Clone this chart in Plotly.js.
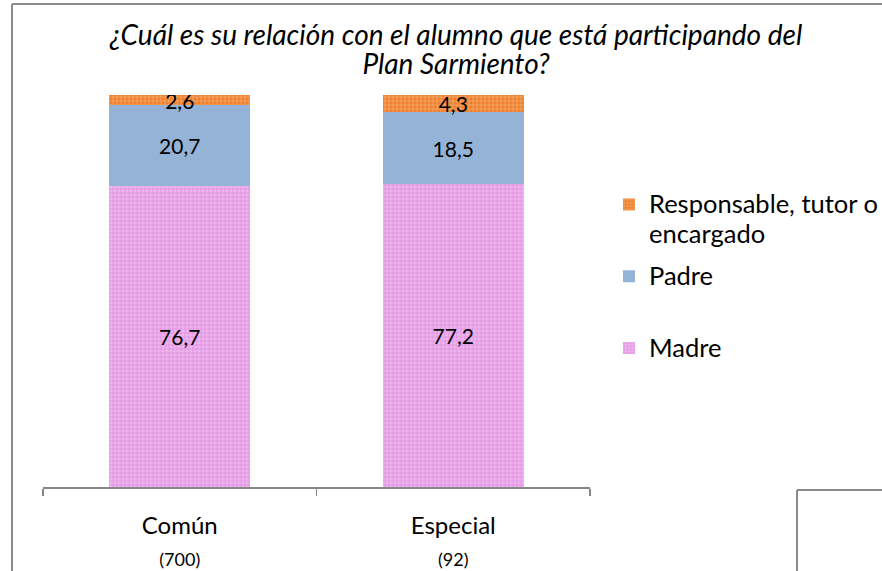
<!DOCTYPE html>
<html>
<head>
<meta charset="utf-8">
<script src="https://cdn.plot.ly/plotly-3.0.1.min.js"></script>
<style>html,body{margin:0;padding:0;background:#fff;}#chart{width:882px;height:571px;}</style>
</head>
<body>
<div id="chart"></div>
<script>
const categories = ["Común", "Especial"];
const sampleSizes = ["(700)", "(92)"];
const madre = [76.7, 77.2];
const padre = [20.7, 18.5];
const responsable = [2.6, 4.3];
const seriesNames = [["Madre"], ["Padre", " "], ["Responsable, tutor o", "encargado"]];
const titleLines = ["¿Cuál es su relación con el alumno que está participando del", "Plan Sarmiento?"];

const fmt = v => v.toFixed(1).replace(".", ",");
const sized = (lines, size) => lines.map(s => "<span style='font-size:" + size + "px'>" + s + "</span>").join("<br>");
const labelFont = {family: "Lato, sans-serif", size: 21, color: "#000"};

const tickText = categories.map((c, i) =>
  "<span style='font-size:24px'>" + c + "</span><br><span style='font-size:18px'>" + sampleSizes[i] + "</span>");

const common = {
  type: "bar", x: categories, textposition: "inside", insidetextanchor: "middle",
  constraintext: "none", textfont: labelFont, hoverinfo: "skip"
};

const traces = [
  Object.assign({}, common, {
    name: sized(seriesNames[0], 25.5), y: madre, text: madre.map(fmt), legendgroup: "m", legendrank: 3,
    marker: {color: "#e9a6ea", line: {width: 0},
      pattern: {shape: "+", size: 4, solidity: 0.25, fgcolor: "#d884d8", bgcolor: "#eeb4ee", fillmode: "replace"}}
  }),
  Object.assign({}, common, {
    name: sized(seriesNames[1], 25.5), y: padre, text: padre.map(fmt), legendgroup: "p", legendrank: 2,
    marker: {color: "#95b3d7", line: {width: 0}}
  }),
  Object.assign({}, common, {
    name: sized(seriesNames[2], 25.5), y: responsable, text: responsable.map(fmt), legendgroup: "r", legendrank: 1,
    marker: {color: "#f08a3c", line: {width: 0},
      pattern: {shape: "+", size: 4, solidity: 0.3, fgcolor: "#f5b07a", bgcolor: "#ee7f2c", fillmode: "replace"}}
  })
];

const W = 882, H = 571;
const L = 43, R = 590, T = 95, B = 487;
const px = x => (x - L) / (R - L);
const py = y => (B - y) / (B - T);

const layout = {
  width: W, height: H,
  margin: {l: L, r: W - R, t: T, b: H - B, pad: 0},
  paper_bgcolor: "#fff", plot_bgcolor: "#fff",
  barmode: "stack", bargap: 0.485,
  font: {family: "Lato, sans-serif", color: "#000"},
  title: {
    text: sized(titleLines, 28), xref: "container", x: 456 / W, xanchor: "center",
    yref: "container", y: 1 - 45 / H, yanchor: "top", automargin: false,
    font: {family: "Lato, sans-serif", size: 22, style: "italic", color: "#000"}
  },
  showlegend: true,
  legend: {
    xref: "container", yref: "container",
    x: 609 / W, y: 1 - 183 / H, xanchor: "left", yanchor: "top",
    traceorder: "grouped", valign: "top", tracegroupgap: 9,
    font: {family: "Lato, sans-serif", size: 23, color: "#000"},
    bgcolor: "rgba(0,0,0,0)"
  },
  xaxis: {
    tickmode: "array", tickvals: categories, ticktext: tickText,
    showline: true, linecolor: "#868686", linewidth: 1.5,
    ticks: "outside", tickson: "boundaries", ticklen: 7, tickcolor: "#868686", tickwidth: 1.5,
    tickfont: {family: "Lato, sans-serif", size: 25, color: "#000"},
    ticklabelstandoff: 15, showgrid: false, zeroline: false, fixedrange: true, automargin: false
  },
  yaxis: {range: [0, 100], visible: false, showgrid: false, zeroline: false, fixedrange: true},
  shapes: [
    {type: "line", xref: "paper", yref: "paper", x0: px(12), x1: px(12), y0: py(4), y1: py(575), line: {color: "#8c8c8c", width: 2}},
    {type: "line", xref: "paper", yref: "paper", x0: px(12), x1: px(886), y0: py(4), y1: py(4), line: {color: "#8c8c8c", width: 2}},
    {type: "line", xref: "paper", yref: "paper", x0: px(797), x1: px(797), y0: py(490), y1: py(575), line: {color: "#8c8c8c", width: 2}},
    {type: "line", xref: "paper", yref: "paper", x0: px(797), x1: px(886), y0: py(490), y1: py(490), line: {color: "#8c8c8c", width: 2}}
  ]
};

Plotly.newPlot("chart", traces, layout, {displayModeBar: false, staticPlot: true});
</script>
</body>
</html>
